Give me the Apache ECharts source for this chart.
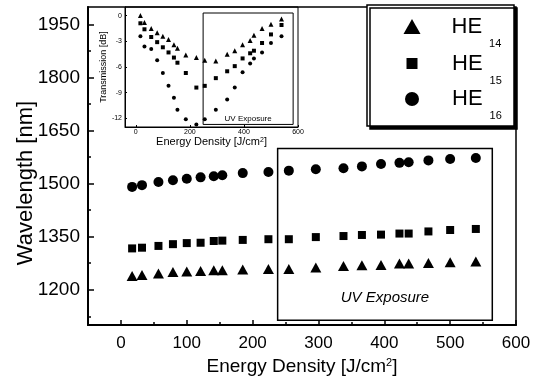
<!DOCTYPE html>
<html><head><meta charset="utf-8">
<script src="https://cdn.jsdelivr.net/npm/echarts@6/dist/echarts.min.js"></script>
<style>html,body{margin:0;padding:0;background:#fff}#c{width:545px;height:381px}</style>
</head><body><div id="c"></div>
<script>
// ---- data ----
const energy = [17,32,57,79,100,121,141,154,185,224,255,296,338,366,395,423,437,467,500,539];
const he14 = [1239,1242,1246,1250,1252,1253,1255,1255,1257,1259,1259,1263,1267,1269,1270,1274,1274,1276,1278,1280];
const he15 = [1317,1319,1324,1329,1332,1333,1338,1339,1341,1343,1343,1349,1352,1355,1356,1359,1359,1365,1369,1372];
const he16 = [1491,1496,1505,1510,1514,1518,1521,1524,1530,1533,1537,1541,1544,1549,1556,1559,1561,1566,1570,1573];
const insetHe14 = [0.0,-0.8,-1.5,-2.0,-2.4,-2.8,-3.4,-3.8,-4.6,-4.9,-5.2,-5.3,-4.5,-4.1,-3.4,-2.9,-2.3,-1.5,-1.0,-0.4];
const insetHe15 = [-0.9,-1.6,-2.5,-3.1,-3.7,-4.3,-4.9,-5.5,-6.7,-8.4,-8.2,-7.3,-6.5,-5.9,-5.0,-4.4,-4.1,-3.2,-2.2,-1.1];
const insetHe16 = [-2.4,-3.6,-3.9,-5.2,-6.7,-8.2,-9.6,-11.0,-12.1,-12.7,-12.1,-11.0,-9.8,-8.4,-6.6,-5.6,-5.0,-4.3,-3.2,-2.4];
const xTicks = [0,100,200,300,400,500,600];
const xMinorTicks = [50,150,250,350,450,550];
const yTicks = [1200,1350,1500,1650,1800,1950];
const yMinorTicks = [1125,1275,1425,1575,1725,1875];
const insetXTicks = [0,200,400,600];
const insetYTicks = [-12,-9,-6,-3,0];
const seriesNames = ['HE14','HE15','HE16'];
const uvBox = [[238,1600],[564,1114]];
const insetUvBox = [[249,0.3],[582,-12.7]];

const FONT = 'Liberation Sans, Arial, sans-serif';
const pairs = (ys) => energy.map((e,i)=>[e, ys[i]]);
const plain = v => String(v);

const chart = echarts.init(document.getElementById('c'), null, {renderer:'canvas'});
const black = '#000';

function legendItem(name, left, top, w, h, padLeft){
  return {
    data:[name], left:left, top:top, padding:0, itemWidth:w, itemHeight:h,
    itemStyle:{color:black},
    formatter: n => '{he|HE}{sub|' + n.slice(2) + '}',
    textStyle:{
      color:black, fontFamily:FONT,
      rich:{
        he:{fontSize:22, fontFamily:FONT, color:black, verticalAlign:'top', padding:[11.5,0,0,padLeft]},
        sub:{fontSize:11, fontFamily:FONT, color:black, verticalAlign:'top', padding:[34,0,0,7]}
      }
    },
    selectedMode:false, z:6
  };
}

const option = {
  animation:false,
  backgroundColor:'#fff',
  grid:[
    {left:88, top:7, right:29, bottom:51, show:true, borderColor:black, borderWidth:1.5, containLabel:false},
    {left:125, top:7, width:173, height:120, show:true, borderColor:black, borderWidth:1, containLabel:false}
  ],
  xAxis:[
    {gridIndex:0, type:'value', min:-50, max:600, position:'bottom',
     name:'Energy Density [J/cm{sup|2}]', nameLocation:'middle', nameGap:29,
     nameTextStyle:{fontSize:19, fontFamily:FONT, color:black,
       rich:{sup:{fontSize:11, fontFamily:FONT, color:black, verticalAlign:'top'}}},
     axisLine:{show:true, onZero:false, lineStyle:{color:black, width:2}},
     axisTick:{show:true, inside:true, length:5, customValues:xTicks, lineStyle:{color:black, width:1.5}},
     axisLabel:{show:true, customValues:xTicks, formatter:plain, fontSize:17, fontFamily:FONT, color:black, margin:10},
     splitLine:{show:false}},
    {gridIndex:0, type:'value', min:-50, max:600, position:'bottom',
     axisLine:{show:false, onZero:false}, axisLabel:{show:false},
     axisTick:{show:true, inside:true, length:3, customValues:xMinorTicks, lineStyle:{color:black, width:1.5}},
     splitLine:{show:false}},
    {gridIndex:1, type:'value', min:-40, max:600, position:'bottom',
     name:'Energy Density [J/cm{sup|2}]', nameLocation:'middle', nameGap:2,
     nameTextStyle:{fontSize:11, fontFamily:FONT, color:black,
       rich:{sup:{fontSize:7, fontFamily:FONT, color:black, verticalAlign:'top'}}},
     axisLine:{show:true, onZero:false, lineStyle:{color:black, width:1}},
     axisTick:{show:true, inside:true, length:2, customValues:insetXTicks, lineStyle:{color:black}},
     axisLabel:{show:true, customValues:insetXTicks, formatter:plain, fontSize:7, fontFamily:FONT, color:black, margin:2},
     splitLine:{show:false}}
  ],
  yAxis:[
    {gridIndex:0, type:'value', min:1100, max:2000, position:'left',
     axisLine:{show:true, onZero:false, lineStyle:{color:black, width:2}},
     axisTick:{show:true, inside:true, length:6, customValues:yTicks, lineStyle:{color:black, width:1.5}},
     axisLabel:{show:true, customValues:yTicks, formatter:plain, fontSize:19, fontFamily:FONT, color:black, margin:8},
     splitLine:{show:false}},
    {gridIndex:0, type:'value', min:1100, max:2000, position:'left',
     axisLine:{show:false, onZero:false}, axisLabel:{show:false},
     axisTick:{show:true, inside:true, length:3, customValues:yMinorTicks, lineStyle:{color:black, width:1.5}},
     splitLine:{show:false}},
    {gridIndex:1, type:'value', min:-13, max:1, position:'left',
     name:'Transmission [dB]', nameLocation:'middle', nameGap:13, nameRotate:90,
     nameTextStyle:{fontSize:9, fontFamily:FONT, color:black},
     axisLine:{show:true, onZero:false, lineStyle:{color:black, width:1}},
     axisTick:{show:true, inside:true, length:2, customValues:insetYTicks, lineStyle:{color:black}},
     axisLabel:{show:true, customValues:insetYTicks, formatter:plain, fontSize:7, fontFamily:FONT, color:black, margin:3},
     splitLine:{show:false}}
  ],
  legend:[
    legendItem('HE14', 403.5, 15.5, 17, 15, 26),
    legendItem('HE15', 406.5, 52.5, 11, 11, 29.5),
    legendItem('HE16', 405, 88, 14, 14, 28)
  ],
  graphic:[
    {type:'rect', z:5, shape:{x:367, y:5, width:147, height:121},
     style:{fill:'#fff', stroke:black, lineWidth:1.5, shadowColor:black, shadowOffsetX:3, shadowOffsetY:3, shadowBlur:0}},
    {type:'text', z:5, x:26, y:183, rotation:Math.PI/2,
     style:{text:'Wavelength [nm]', fontSize:22, fontFamily:FONT, fill:black,
       align:'center', verticalAlign:'middle', textAlign:'center', textVerticalAlign:'middle'}}
  ],
  series:[
    {name:'HE14', type:'scatter', xAxisIndex:0, yAxisIndex:0, symbol:'triangle', symbolSize:[11,10],
     itemStyle:{color:black, opacity:1}, data:pairs(he14), z:3},
    {name:'HE15', type:'scatter', xAxisIndex:0, yAxisIndex:0, symbol:'rect', symbolSize:8,
     itemStyle:{color:black, opacity:1}, data:pairs(he15), z:3},
    {name:'HE16', type:'scatter', xAxisIndex:0, yAxisIndex:0, symbol:'circle', symbolSize:10,
     itemStyle:{color:black, opacity:1}, data:pairs(he16), z:3,
     markArea:{silent:true,
       itemStyle:{color:'rgba(0,0,0,0)', borderColor:black, borderWidth:1.5},
       label:{show:true, position:'insideBottom', distance:16, formatter:'UV Exposure',
         fontSize:15, fontStyle:'italic', fontFamily:FONT, color:black},
       data:[[{xAxis:uvBox[0][0], yAxis:uvBox[0][1]},{xAxis:uvBox[1][0], yAxis:uvBox[1][1]}]]}},
    {name:'T14', type:'scatter', xAxisIndex:2, yAxisIndex:2, symbol:'triangle', symbolSize:5,
     itemStyle:{color:black, opacity:1}, data:pairs(insetHe14)},
    {name:'T15', type:'scatter', xAxisIndex:2, yAxisIndex:2, symbol:'rect', symbolSize:4,
     itemStyle:{color:black, opacity:1}, data:pairs(insetHe15)},
    {name:'T16', type:'scatter', xAxisIndex:2, yAxisIndex:2, symbol:'circle', symbolSize:4,
     itemStyle:{color:black, opacity:1}, data:pairs(insetHe16),
     markArea:{silent:true,
       itemStyle:{color:'rgba(0,0,0,0)', borderColor:black, borderWidth:1},
       label:{show:true, position:'insideBottom', distance:2, formatter:'UV Exposure',
         fontSize:8, fontFamily:FONT, color:black},
       data:[[{xAxis:insetUvBox[0][0], yAxis:insetUvBox[0][1]},{xAxis:insetUvBox[1][0], yAxis:insetUvBox[1][1]}]]}}
  ]
};
chart.setOption(option);
</script>
</body></html>
